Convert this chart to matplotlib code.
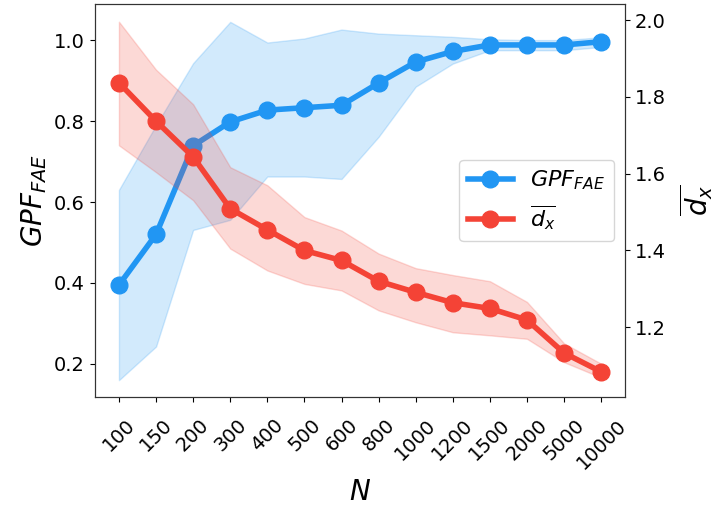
import matplotlib.pyplot as plt
import numpy as np

N_LABELS = ["100", "150", "200", "300", "400", "500", "600", "800",
            "1000", "1200", "1500", "2000", "5000", "10000"]

gpf_mean = [0.395, 0.520, 0.739, 0.798, 0.827, 0.833, 0.839, 0.894,
            0.946, 0.972, 0.988, 0.988, 0.988, 0.996]
gpf_low = [0.160, 0.243, 0.531, 0.556, 0.663, 0.663, 0.657, 0.761,
           0.885, 0.942, 0.975, 0.975, 0.975, 0.983]
gpf_high = [0.630, 0.790, 0.943, 1.045, 0.994, 1.004, 1.026, 1.016,
            1.012, 1.008, 1.002, 1.000, 1.000, 1.007]

dx_mean = [1.837, 1.737, 1.644, 1.509, 1.454, 1.400, 1.374, 1.320,
           1.291, 1.264, 1.249, 1.219, 1.133, 1.084]
dx_low = [1.674, 1.604, 1.531, 1.405, 1.348, 1.313, 1.296, 1.244,
          1.213, 1.187, 1.179, 1.170, 1.109, 1.069]
dx_high = [1.996, 1.871, 1.781, 1.617, 1.570, 1.487, 1.452, 1.392,
           1.354, 1.336, 1.320, 1.266, 1.158, 1.105]

BLUE = "#2196F3"
RED = "#F44336"

x = np.arange(len(N_LABELS))

fig, ax1 = plt.subplots(figsize=(7.13, 5.08), dpi=100)
fig.subplots_adjust(left=0.133, right=0.877, top=0.992, bottom=0.219)

ax1.fill_between(x, gpf_low, gpf_high, color=BLUE, alpha=0.2)
l1, = ax1.plot(x, gpf_mean, "-o", color=BLUE, lw=4, ms=12,
               label=r"$GPF_{FAE}$")
ax1.set_ylim(0.119, 1.089)
ax1.set_ylabel(r"$GPF_{FAE}$", fontsize=20)
ax1.set_xlabel(r"$N$", fontsize=20)
ax1.set_xticks(x)
ax1.set_xticklabels(N_LABELS, rotation=45)
ax1.tick_params(labelsize=14)
ax1.tick_params(axis="x", pad=10)

ax2 = ax1.twinx()
ax2.fill_between(x, dx_low, dx_high, color=RED, alpha=0.2)
l2, = ax2.plot(x, dx_mean, "-o", color=RED, lw=4, ms=12,
               label=r"$\overline{d_x}$")
ax2.set_ylim(1.019, 2.042)
ax2.set_ylabel(r"$\overline{d_x}$", fontsize=20, labelpad=8)
ax2.tick_params(labelsize=14)

for ax in (ax1, ax2):
    for sp in ax.spines.values():
        sp.set_color("#333333")

ax2.legend(handles=[l1, l2], loc="center right", fontsize=16)

fig.savefig("out.png", dpi=100)
